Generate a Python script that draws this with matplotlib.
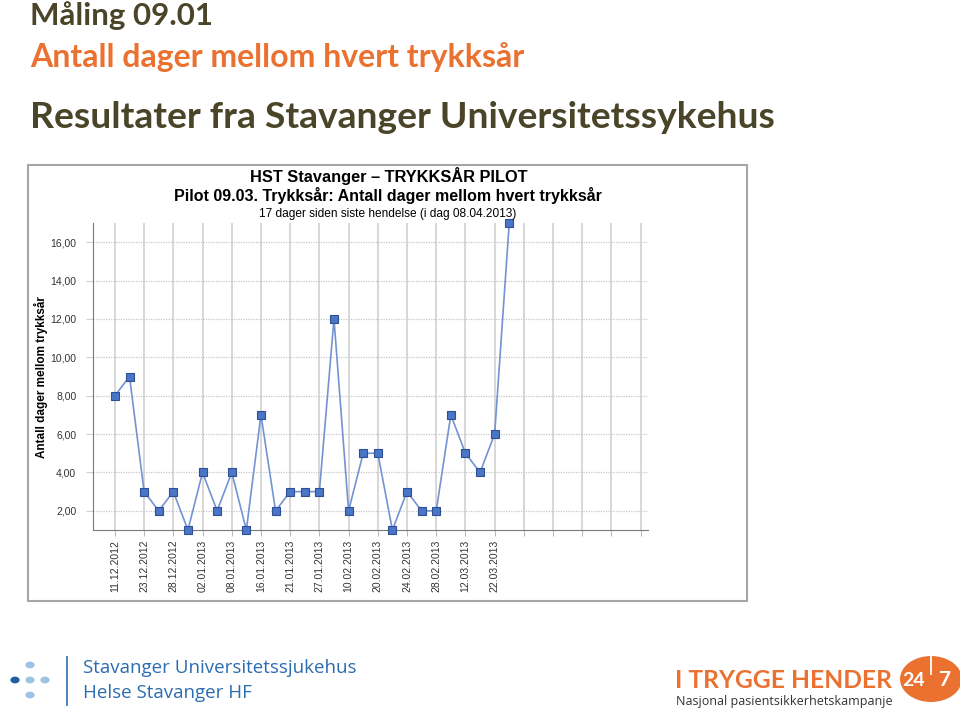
import matplotlib.pyplot as plt
from matplotlib.patches import Rectangle, Circle
from matplotlib.lines import Line2D

# data
dates = ["11.12.2012", "23.12.2012", "28.12.2012", "02.01.2013", "08.01.2013",
         "16.01.2013", "21.01.2013", "27.01.2013", "10.02.2013", "20.02.2013",
         "24.02.2013", "28.02.2013", "12.03.2013", "22.03.2013"]
days = [8, 9, 3, 2, 3, 1, 4, 2, 4, 1, 7, 2, 3, 3, 3, 12, 2, 5, 5, 1,
        3, 2, 2, 7, 5, 4, 6, 17]
n_slots = 37  # chart reserves empty category slots to the right
y_ticks = [2, 4, 6, 8, 10, 12, 14, 16]

W, H = 960, 712
fig = plt.figure(figsize=(W / 100, H / 100), dpi=100)

def fx(px):
    return px / W

def fy(py):
    return 1 - py / H

title_font = "Lato"
dark = "#4a4528"
orange = "#ea7130"

# slide headings
fig.text(fx(30), fy(16), "Måling 09.01", fontsize=22.5, fontweight="bold",
         family=title_font, color=dark, va="center", ha="left")
fig.text(fx(30), fy(57), "Antall dager mellom hvert trykksår", fontsize=23,
         fontweight="bold", family=title_font, color=orange, va="center", ha="left")
fig.text(fx(30), fy(117), "Resultater fra Stavanger Universitetssykehus", fontsize=26.8,
         fontweight="bold", family=title_font, color=dark, va="center", ha="left")

# chart frame
fig.patches.append(Rectangle((fx(28), fy(601)), fx(747) - fx(28), fy(165) - fy(601),
                             transform=fig.transFigure, fill=False,
                             edgecolor="#a6a6a6", linewidth=1.5))

fig.text(fx(389), fy(176), "HST Stavanger – TRYKKSÅR PILOT", fontsize=11.8,
         fontweight="bold", family="Liberation Sans", ha="center", va="center")
fig.text(fx(388), fy(195), "Pilot 09.03. Trykksår: Antall dager mellom hvert trykksår",
         fontsize=11.5, fontweight="bold", family="Liberation Sans", ha="center", va="center")
fig.text(fx(388), fy(214), "17 dager siden siste hendelse (i dag 08.04.2013)",
         fontsize=8.6, family="Liberation Sans", ha="center", va="center")
fig.text(fx(41), fy(377), "Antall dager mellom trykksår", fontsize=8.5, fontweight="bold",
         family="Liberation Sans", rotation=90, ha="center", va="center")

ax = fig.add_axes([fx(93), fy(530), fx(648) - fx(93), fy(223) - fy(530)])
x = list(range(len(days)))
ax.plot(x, days, color="#7393d3", linewidth=1.2, marker="s", markersize=6,
        markerfacecolor="#4a76c8", markeredgecolor="#2f4f94", markeredgewidth=0.8,
        zorder=3, clip_on=False)

ax.set_xlim(-1.5, n_slots - 0.5)
ax.set_ylim(1, 17)
ticks = list(range(0, n_slots, 2))
ax.set_xticks(ticks)
ax.set_xticklabels(dates + [""] * (len(ticks) - len(dates)), rotation=90,
                   fontsize=7.5, family="Liberation Sans", color="#333333")
ax.set_yticks(y_ticks)
ax.set_yticklabels([f"{v:.2f}".replace(".", ",") for v in y_ticks], fontsize=7.5,
                   family="Liberation Sans", color="#333333")
ax.tick_params(axis="x", length=4, color="#bbbbbb", pad=3)
ax.tick_params(axis="y", length=5, color="#d0d0d0", pad=7)
ax.grid(axis="x", color="#d4d4d4", linewidth=1.3, linestyle="-")
ax.grid(axis="y", color="#c8c8c8", linewidth=0.9, linestyle=(0, (1, 1)))
ax.set_axisbelow(True)
for s in ["top", "right"]:
    ax.spines[s].set_visible(False)
ax.spines["left"].set_color("#7a7a7a")
ax.spines["bottom"].set_color("#7a7a7a")

# footer, left logo
blue_light = "#9cc2e5"
for (cx, cy, c) in [(30, 665, blue_light), (15, 680, "#1d5fa0"), (30, 680, blue_light),
                    (45, 680, blue_light), (30, 695, blue_light)]:
    fig.patches.append(Circle((fx(cx), fy(cy)), 4.6 / W, transform=fig.transFigure,
                              facecolor=c, edgecolor="none"))
fig.lines.append(Line2D([fx(67), fx(67)], [fy(657), fy(705)], transform=fig.transFigure,
                        color="#3a78b5", linewidth=1.3))
fig.text(fx(83), fy(668), "Stavanger Universitetssjukehus", fontsize=13.5,
         family="Open Sans", color="#2c6cb0", va="center")
fig.text(fx(83), fy(693), "Helse Stavanger HF", fontsize=13.5,
         family="Open Sans", color="#2c6cb0", va="center")

# footer, right logo
fig.text(fx(675), fy(681), "I TRYGGE HENDER", fontsize=17.7, fontweight="bold",
         family=title_font, color=orange, va="center")
fig.text(fx(676), fy(701), "Nasjonal pasientsikkerhetskampanje", fontsize=9,
         family="Open Sans", color="#333333", va="center")
fig.patches.append(Circle((fx(931), fy(679)), 31 / W, transform=fig.transFigure,
                          facecolor=orange, edgecolor="none"))
fig.lines.append(Line2D([fx(931), fx(931)], [fy(648), fy(674)], transform=fig.transFigure,
                        color="white", linewidth=1.3))
fig.text(fx(914), fy(680), "24", fontsize=14, fontweight="bold", family=title_font,
         color="white", ha="center", va="center")
fig.text(fx(945), fy(680), "7", fontsize=15, fontweight="bold", family=title_font,
         color="white", ha="center", va="center")

fig.savefig("out.png", dpi=100)
